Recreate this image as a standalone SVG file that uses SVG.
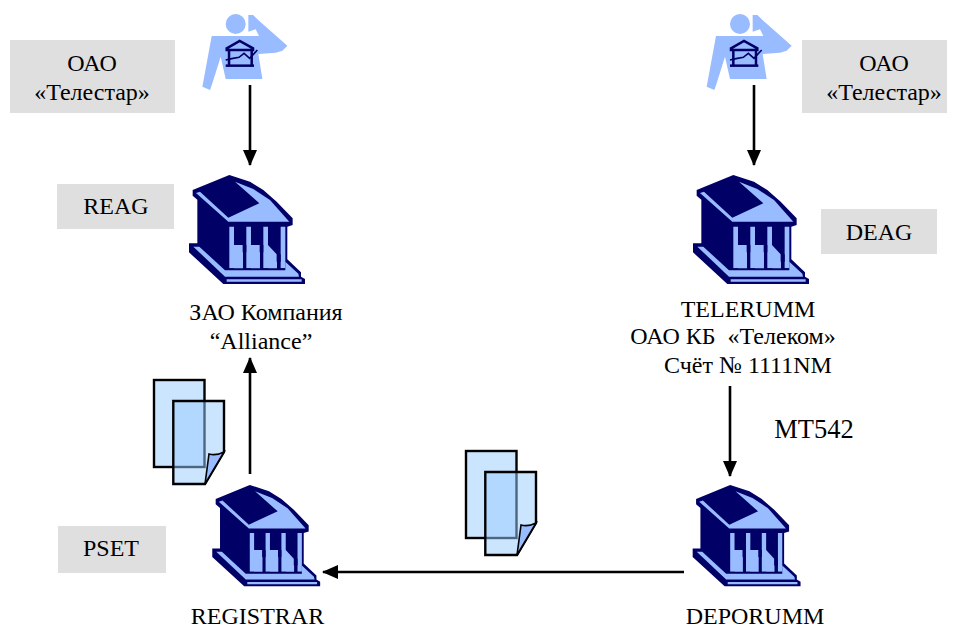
<svg xmlns="http://www.w3.org/2000/svg" width="955" height="629" viewBox="0 0 955 629">
<style>
text{font-family:"Liberation Serif","Times New Roman",serif;font-size:24px;fill:#000;text-anchor:middle}
.box{fill:#dfdfdf}
.d{fill:#000066}
.l{fill:#99bbff}
.line{stroke:#000;stroke-width:2.6;fill:none}
.ic{fill:none;stroke:#000066;stroke-width:7.5}
</style>
<defs>
<marker id="ah" markerUnits="userSpaceOnUse" markerWidth="16" markerHeight="14" refX="15" refY="7" orient="auto"><path d="M0 0L16 7L0 14z" fill="#000"/></marker>
<g id="bank">
<path class="d" d="M178 30L68 75V92L82 104V235H57V262L160 357H405V342L393 335V322L352 283V185L368 180V160L320 110L280 75L240 50Z"/>
<path class="l" d="M78 84L90 80L175 158L268 115L195 50L250 72L300 105L358 170H175Z"/>
<path class="l" d="M178 185H192V240H218V262H229V185H243V240H269V262H280V185H294V240L320 268V290H332V185H346V310H178Z"/>
<path class="d" d="M219 240H229V310H243V316H219ZM270 240H280V310H295V316H270ZM321 268H332V310H346V316H321ZM168 310H192V316H168Z"/>
<path class="l" d="M70 245H88L165 316H346V290L385 326L387 335H165Z"/>
<path class="l" d="M170 343H395V350H170Z"/>
</g>
<g id="person">
<circle cx="180" cy="72" r="30" class="l"/>
<path class="l" d="M108 108H250L240 88L218 95V45H232L250 62L335 137L320 152L300 158L248 162L260 237H150L135 170L110 250L103 270L80 260Z"/>
<path class="ic" d="M153 145L192 123L232 145V150H153ZM160 150V195M228 150V195"/>
<path class="ic" d="M150 197H235"/>
<path class="ic" style="stroke-width:5" d="M150 180L168 176L190 172L205 160L222 175L245 150"/>
</g>
<g id="docs">
<rect x="154" y="380" width="50.500" height="87" fill="#cce5ff" stroke="#000" stroke-width="2.400"/>
<path d="M173.300 401H224V452L205 484H173.300Z" fill="#99ccff" fill-opacity=".5" stroke="#000" stroke-width="2.400"/>
<path d="M205 484L209 454Q216 456 224 452Z" fill="#99bbff" stroke="#000" stroke-width="1.600"/>
</g>
</defs>
<g id="n-oao-left"><rect class="box" x="10" y="40" width="165" height="73"/><text x="92" y="71">ОАО</text><text x="92" y="100">«Телестар»</text></g>
<g id="n-oao-right"><rect class="box" x="802" y="40" width="145" height="73"/><text x="884" y="71">ОАО</text><text x="884" y="100">«Телестар»</text></g>
<g id="n-person-left"><use href="#person" transform="translate(175.700,0) scale(.3333)"/></g>
<g id="n-person-right"><use href="#person" transform="translate(680,0) scale(.3333)"/></g>
<g id="n-reag"><rect class="box" x="57" y="184" width="117" height="45"/><text x="116" y="214">REAG</text></g>
<g id="n-deag"><rect class="box" x="821" y="209" width="116" height="45"/><text x="879" y="240">DEAG</text></g>
<g id="n-pset"><rect class="box" x="58" y="526" width="108" height="47"/><text x="111" y="556">PSET</text></g>
<g id="n-alliance"><use href="#bank" transform="translate(170,165) scale(.3333)"/><text x="266" y="320">ЗАО Компания</text><text x="261" y="349">“Alliance”</text></g>
<g id="n-telerumm"><use href="#bank" transform="translate(674,165) scale(.3333)"/><text x="748" y="317">TELERUMM</text><text x="733" y="344">ОАО КБ &#160;«Телеком»</text><text x="748" y="373">Счёт № 1111NM</text></g>
<g id="n-registrar"><use href="#bank" transform="translate(194.600,475.700) scale(.31)"/><text x="257.500" y="624">REGISTRAR</text></g>
<g id="n-deporumm"><use href="#bank" transform="translate(675,475.700) scale(.31)"/><text x="755" y="624">DEPORUMM</text></g>
<g id="connectors">
<path class="line" marker-end="url(#ah)" d="M250 85V165"/>
<path class="line" marker-end="url(#ah)" d="M754 85V165"/>
<path class="line" marker-end="url(#ah)" d="M730 386V476"/>
<path class="line" marker-end="url(#ah)" d="M250 474V358"/>
<path class="line" marker-end="url(#ah)" d="M684 572H323"/>
</g>
<use href="#docs"/>
<use href="#docs" x="312" y="71"/>
<text x="814" y="438" style="font-size:26.500px">MT542</text>
</svg>
